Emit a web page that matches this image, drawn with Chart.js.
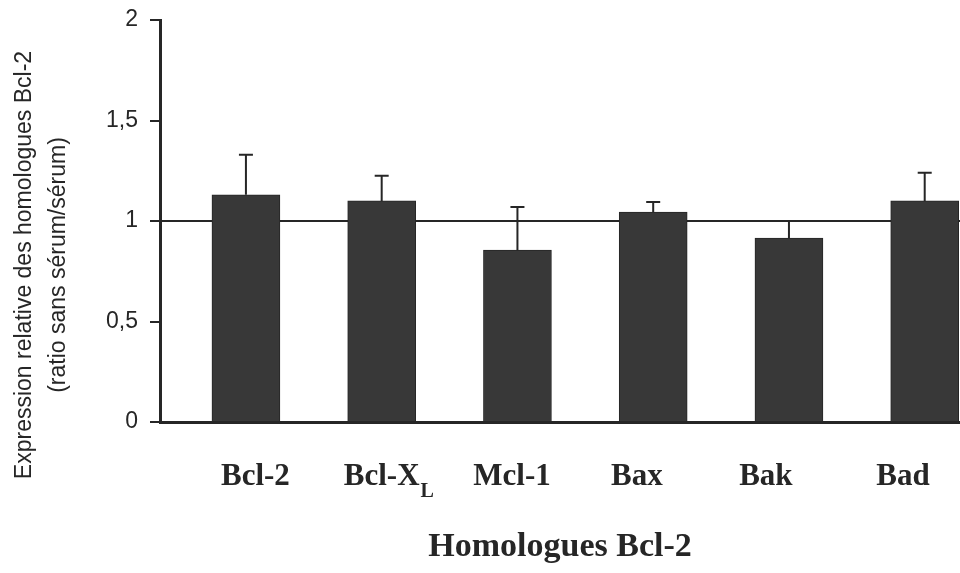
<!DOCTYPE html>
<html><head><meta charset="utf-8">
<script src="https://cdn.jsdelivr.net/npm/chart.js@4/dist/chart.umd.min.js"></script>
<style>html,body{margin:0;padding:0;background:#fff;overflow:hidden}#wrap{width:960px;height:573px;position:relative}</style>
</head><body><div id="wrap"><canvas id="c" width="960" height="573"></canvas></div>
<script>
// ---- data ----
const categories = ['Bcl-2', 'Bcl-X', 'Mcl-1', 'Bax', 'Bak', 'Bad'];
const categorySubscripts = ['', 'L', '', '', '', ''];
const ratioValues = [1.13, 1.10, 0.855, 1.045, 0.915, 1.10];
const errorPlus = [0.20, 0.125, 0.215, 0.05, 0.085, 0.14];
const yTickValues = [0, 0.5, 1, 1.5, 2];
const yTickLabels = ['0', '0,5', '1', '1,5', '2'];
const labelPositions = [0.07, 1.0, 1.96, 2.88, 3.83, 4.84];
const yTitleLines = ['Expression relative des homologues Bcl-2', '(ratio sans sérum/sérum)'];
const xTitle = 'Homologues Bcl-2';
const referenceLevel = 1;

const INK = '#262626';
const serifBold = { family: '"Liberation Serif", "Times New Roman", serif', weight: 'bold' };
const sans = '"Liberation Sans", Arial, sans-serif';

const errorBarsPlugin = {
  id: 'errorBars',
  afterDatasetsDraw(chart) {
    const ctx = chart.ctx, y = chart.scales.y;
    const meta = chart.getDatasetMeta(0);
    ctx.save();
    ctx.strokeStyle = INK; ctx.lineWidth = 2;
    meta.data.forEach((bar, i) => {
      const px = bar.x;
      const top = y.getPixelForValue(ratioValues[i]);
      const e = y.getPixelForValue(ratioValues[i] + errorPlus[i]);
      ctx.beginPath();
      ctx.moveTo(px, top); ctx.lineTo(px, e);
      ctx.moveTo(px - 7, e); ctx.lineTo(px + 7, e);
      ctx.stroke();
    });
    ctx.restore();
  }
};

const textPlugin = {
  id: 'extraText',
  afterDraw(chart) {
    const ctx = chart.ctx, x = chart.scales.x;
    ctx.save();
    ctx.fillStyle = INK;
    // subscripts on category labels
    categorySubscripts.forEach((sub, i) => {
      if (!sub) return;
      ctx.font = 'bold 31px ' + serifBold.family;
      const w = ctx.measureText(categories[i]).width;
      const cx = x.getPixelForValue(labelPositions[i]);
      ctx.font = 'bold 20px ' + serifBold.family;
      ctx.textAlign = 'left'; ctx.textBaseline = 'alphabetic';
      ctx.fillText(sub, cx + w / 2 + 1, 497);
    });
    // rotated y title (two lines)
    ctx.font = '23px ' + sans;
    ctx.textAlign = 'center'; ctx.textBaseline = 'middle';
    const xs = [25, 59];
    yTitleLines.forEach((t, i) => {
      ctx.save();
      ctx.translate(xs[i], 265);
      ctx.rotate(-Math.PI / 2);
      ctx.fillText(t, 0, 0);
      ctx.restore();
    });
    ctx.restore();
  }
};

new Chart(document.getElementById('c'), {
  type: 'bar',
  data: {
    datasets: [{
      data: categories.map((c, i) => ({ x: i, y: ratioValues[i] })),
      backgroundColor: '#383838',
      borderColor: '#262626',
      borderWidth: 1,
      barThickness: 68
    }]
  },
  options: {
    responsive: false,
    animation: false,
    layout: { padding: { top: 20, right: 0, bottom: 0, left: 0 } },
    plugins: { legend: { display: false }, tooltip: { enabled: false } },
    scales: {
      x: {
        type: 'linear', min: -0.633, max: 5.26, offset: false,
        afterBuildTicks: s => { s.ticks = labelPositions.map(v => ({ value: v })); },
        afterFit: s => { s.height = 151; s.paddingLeft = 0; s.paddingRight = 0; },
        grid: { display: false, drawTicks: false },
        border: { display: true, color: INK, width: 3 },
        ticks: {
          autoSkip: false, maxRotation: 0, padding: 36, color: INK,
          font: { family: serifBold.family, weight: 'bold', size: 31 },
          callback: (v, i) => categories[i]
        },
        title: {
          display: true, text: xTitle, color: INK,
          font: { family: serifBold.family, weight: 'bold', size: 34 },
          padding: { top: 0, bottom: 5 }
        }
      },
      y: {
        min: 0, max: 2,
        afterBuildTicks: s => { s.ticks = yTickValues.map(v => ({ value: v })); },
        afterFit: s => { s.width = 160; s.paddingTop = 0; s.paddingBottom = 0; },
        grid: {
          color: c => (c.tick && c.tick.value === referenceLevel) ? INK : 'rgba(0,0,0,0)',
          lineWidth: 2, drawTicks: true, tickLength: 10, tickColor: INK, tickWidth: 2
        },
        border: { color: INK, width: 3 },
        ticks: {
          padding: 12, color: INK,
          font: { family: sans, size: 23 },
          callback: (v, i) => yTickLabels[i]
        }
      }
    }
  },
  plugins: [errorBarsPlugin, textPlugin]
});
</script>
</body></html>
